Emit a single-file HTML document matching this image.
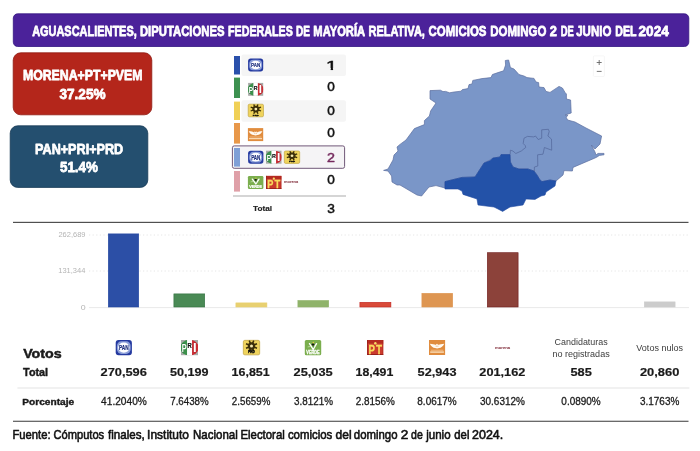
<!DOCTYPE html>
<html lang="es">
<head>
<meta charset="utf-8">
<title>Aguascalientes, Diputaciones Federales de Mayoría Relativa 2024</title>
<style>
html,body{margin:0;padding:0;background:#fff;}
body{width:700px;height:451px;overflow:hidden;font-family:"Liberation Sans", sans-serif;}
svg{display:block;font-family:"Liberation Sans", sans-serif;}
</style>
</head>
<body>
<svg width="700" height="451" viewBox="0 0 700 451">
<rect width="700" height="451" fill="#fff"/>
<rect x="13.3" y="13.8" width="675.5" height="32.7" rx="4.4" fill="#4b229a" stroke="#321580" stroke-width="0.8"/>
<text x="32.13" y="35.9" font-size="15.5" font-weight="bold" fill="#fff" textLength="104.60" lengthAdjust="spacingAndGlyphs" stroke="#fff" stroke-width="0.8" stroke-linejoin="round" >AGUASCALIENTES,</text>
<text x="139.95" y="35.9" font-size="15.5" font-weight="bold" fill="#fff" textLength="84.59" lengthAdjust="spacingAndGlyphs" stroke="#fff" stroke-width="0.8" stroke-linejoin="round" >DIPUTACIONES</text>
<text x="228.08" y="35.9" font-size="15.5" font-weight="bold" fill="#fff" textLength="64.73" lengthAdjust="spacingAndGlyphs" stroke="#fff" stroke-width="0.8" stroke-linejoin="round" >FEDERALES</text>
<text x="295.93" y="35.9" font-size="15.5" font-weight="bold" fill="#fff" textLength="13.97" lengthAdjust="spacingAndGlyphs" stroke="#fff" stroke-width="0.8" stroke-linejoin="round" >DE</text>
<text x="313.37" y="35.9" font-size="15.5" font-weight="bold" fill="#fff" textLength="51.72" lengthAdjust="spacingAndGlyphs" stroke="#fff" stroke-width="0.8" stroke-linejoin="round" >MAYORÍA</text>
<text x="368.48" y="35.9" font-size="15.5" font-weight="bold" fill="#fff" textLength="56.43" lengthAdjust="spacingAndGlyphs" stroke="#fff" stroke-width="0.8" stroke-linejoin="round" >RELATIVA,</text>
<text x="428.53" y="35.9" font-size="15.5" font-weight="bold" fill="#fff" textLength="57.92" lengthAdjust="spacingAndGlyphs" stroke="#fff" stroke-width="0.8" stroke-linejoin="round" >COMICIOS</text>
<text x="490.33" y="35.9" font-size="15.5" font-weight="bold" fill="#fff" textLength="56.15" lengthAdjust="spacingAndGlyphs" stroke="#fff" stroke-width="0.8" stroke-linejoin="round" >DOMINGO</text>
<text x="549.75" y="35.9" font-size="15.5" font-weight="bold" fill="#fff" textLength="7.16" lengthAdjust="spacingAndGlyphs" stroke="#fff" stroke-width="0.8" stroke-linejoin="round" >2</text>
<text x="560.67" y="35.9" font-size="15.5" font-weight="bold" fill="#fff" textLength="13.10" lengthAdjust="spacingAndGlyphs" stroke="#fff" stroke-width="0.8" stroke-linejoin="round" >DE</text>
<text x="576.23" y="35.9" font-size="15.5" font-weight="bold" fill="#fff" textLength="35.16" lengthAdjust="spacingAndGlyphs" stroke="#fff" stroke-width="0.8" stroke-linejoin="round" >JUNIO</text>
<text x="615.29" y="35.9" font-size="15.5" font-weight="bold" fill="#fff" textLength="21.24" lengthAdjust="spacingAndGlyphs" stroke="#fff" stroke-width="0.8" stroke-linejoin="round" >DEL</text>
<text x="638.53" y="35.9" font-size="15.5" font-weight="bold" fill="#fff" textLength="30.35" lengthAdjust="spacingAndGlyphs" stroke="#fff" stroke-width="0.8" stroke-linejoin="round" >2024</text>
<rect x="13.2" y="52.8" width="138.6" height="62" rx="7.5" fill="#b4261b" stroke="#8f1a12" stroke-width="0.8"/>
<text x="22.88" y="79.9" font-size="15.2" font-weight="bold" fill="#fff" textLength="119.65" lengthAdjust="spacingAndGlyphs" stroke="#fff" stroke-width="0.8" stroke-linejoin="round" >MORENA+PT+PVEM</text>
<text x="59.49" y="98.9" font-size="15.2" font-weight="bold" fill="#fff" textLength="46.07" lengthAdjust="spacingAndGlyphs" stroke="#fff" stroke-width="0.8" stroke-linejoin="round" >37.25%</text>
<rect x="10.2" y="125.8" width="137.6" height="61.6" rx="7.5" fill="#244f6f" stroke="#163a55" stroke-width="0.8"/>
<text x="35.07" y="153.6" font-size="15.2" font-weight="bold" fill="#fff" textLength="88.06" lengthAdjust="spacingAndGlyphs" stroke="#fff" stroke-width="0.8" stroke-linejoin="round" >PAN+PRI+PRD</text>
<text x="59.99" y="172.4" font-size="15.2" font-weight="bold" fill="#fff" textLength="37.96" lengthAdjust="spacingAndGlyphs" stroke="#fff" stroke-width="0.8" stroke-linejoin="round" >51.4%</text>
<rect x="241.4" y="54.4" width="104.6" height="21.6" rx="2" fill="#f5f5f5"/>
<rect x="241.4" y="100.2" width="104.6" height="21.6" rx="2" fill="#f5f5f5"/>
<rect x="232.4" y="145.9" width="112.2" height="22.4" rx="1.8" fill="#f5f4f6" stroke="#705878" stroke-width="1"/>
<rect x="234" y="56" width="6" height="18.5" fill="#2a50ab"/>
<rect x="234" y="77.6" width="6" height="20.4" fill="#3d9150"/>
<rect x="234" y="101.6" width="6" height="18.4" fill="#f0d056"/>
<rect x="234" y="123" width="6" height="20.6" fill="#e8984a"/>
<rect x="234" y="148" width="6" height="18.6" fill="#7f9fd6"/>
<rect x="234" y="171" width="6" height="20.6" fill="#dfa0a8"/>
<g transform="translate(248.1,58.6) scale(0.94375,0.9142857142857144)">
<rect x="0" y="0" width="16" height="14" rx="2.8" fill="#253aa0"/>
<rect x="1.2" y="1.2" width="13.6" height="11.6" rx="4.4" fill="#8c9fd9"/>
<ellipse cx="8" cy="7" rx="5.6" ry="4.7" fill="#fdfdff"/>
<text x="8" y="9.5" font-size="6.8" font-weight="bold" fill="#1a2c7c" stroke="#1a2c7c" stroke-width="0.2" text-anchor="middle" textLength="9.6" lengthAdjust="spacingAndGlyphs">PAN</text>
</g>
<g transform="translate(248.1,82.9) scale(0.94375,0.9214285714285715)">
<clipPath id="pric1"><ellipse cx="8" cy="7" rx="8.6" ry="7.2"/></clipPath>
<rect x="0" y="0" width="16" height="14" fill="#a9aba9"/>
<g clip-path="url(#pric1)">
<rect x="0" y="0" width="5.7" height="14" fill="#3c914c"/>
<rect x="5.7" y="0" width="4.7" height="14" fill="#fff"/>
<rect x="10.4" y="0" width="5.6" height="14" fill="#cc2d34"/>
</g>
<text x="3.1" y="11" font-size="9.6" font-weight="bold" fill="#fff" stroke="#256f36" stroke-width="0.6" paint-order="stroke" text-anchor="middle" textLength="4.6" lengthAdjust="spacingAndGlyphs">P</text>
<text x="8.1" y="7.7" font-size="6.4" font-weight="bold" fill="#111" stroke="#111" stroke-width="0.2" text-anchor="middle" textLength="4" lengthAdjust="spacingAndGlyphs">R</text>
<text x="13" y="11.4" font-size="11" font-weight="bold" fill="#fff" stroke="#a01f26" stroke-width="0.6" paint-order="stroke" text-anchor="middle" textLength="3.4" lengthAdjust="spacingAndGlyphs">I</text>
</g>
<g transform="translate(247.9,103.9) scale(0.99375,0.9428571428571428)">
<rect x="0.3" y="0.3" width="15.4" height="13.4" rx="1.4" fill="#efd35c" stroke="#b89a34" stroke-width="0.6"/>
<line x1="10.22" y1="6.42" x2="13.17" y2="7.53" stroke="#3c2f08" stroke-width="1.4"/><line x1="8.92" y1="7.72" x2="10.14" y2="10.40" stroke="#3c2f08" stroke-width="1.4"/><line x1="7.08" y1="7.72" x2="5.86" y2="10.40" stroke="#3c2f08" stroke-width="1.4"/><line x1="5.78" y1="6.42" x2="2.83" y2="7.53" stroke="#3c2f08" stroke-width="1.4"/><line x1="5.78" y1="4.58" x2="2.83" y2="3.47" stroke="#3c2f08" stroke-width="1.4"/><line x1="7.08" y1="3.28" x2="5.86" y2="0.60" stroke="#3c2f08" stroke-width="1.4"/><line x1="8.92" y1="3.28" x2="10.14" y2="0.60" stroke="#3c2f08" stroke-width="1.4"/><line x1="10.22" y1="4.58" x2="13.17" y2="3.47" stroke="#3c2f08" stroke-width="1.4"/>
<circle cx="8" cy="5.5" r="3.5" fill="#3c2f08"/>
<circle cx="8" cy="5.5" r="1.4" fill="#f7ebb0"/>
<text x="8" y="12.4" font-size="2.7" font-weight="bold" fill="#0c0c0c" stroke="#0c0c0c" stroke-width="0.35" text-anchor="middle" textLength="6" lengthAdjust="spacingAndGlyphs">PRD</text>
</g>
<g transform="translate(247.9,128.1) scale(0.95625,0.9285714285714286)">
<rect x="0" y="0" width="16" height="14" fill="#e08c3e"/>
<path d="M0.8 3.4 C3.4 3.5 5.4 3.9 6.6 4.7 L7.2 3.5 L8 4.5 L8.8 3.5 L9.4 4.7 C10.6 3.9 12.6 3.5 15.2 3.4 C14 6 12 7.2 10 7.5 L8 8 L6 7.5 C4 7.2 2 6 0.8 3.4 Z" fill="#fffaf2"/>
<path d="M7.2 5.2 v1.2 M8.8 5.2 v1.2" stroke="#e08c3e" stroke-width="0.5"/>
<rect x="1.8" y="9.1" width="12.4" height="0.9" fill="#f1bb82"/>
<rect x="1.2" y="10.6" width="13.6" height="1.4" fill="#f8d8b0"/>
</g>
<g transform="translate(248.1,150.7) scale(0.95625,0.9285714285714286)">
<rect x="0" y="0" width="16" height="14" rx="2.8" fill="#253aa0"/>
<rect x="1.2" y="1.2" width="13.6" height="11.6" rx="4.4" fill="#8c9fd9"/>
<ellipse cx="8" cy="7" rx="5.6" ry="4.7" fill="#fdfdff"/>
<text x="8" y="9.5" font-size="6.8" font-weight="bold" fill="#1a2c7c" stroke="#1a2c7c" stroke-width="0.2" text-anchor="middle" textLength="9.6" lengthAdjust="spacingAndGlyphs">PAN</text>
</g>
<g transform="translate(266,150.7) scale(0.96875,0.9285714285714286)">
<clipPath id="pric2"><ellipse cx="8" cy="7" rx="8.6" ry="7.2"/></clipPath>
<rect x="0" y="0" width="16" height="14" fill="#a9aba9"/>
<g clip-path="url(#pric2)">
<rect x="0" y="0" width="5.7" height="14" fill="#3c914c"/>
<rect x="5.7" y="0" width="4.7" height="14" fill="#fff"/>
<rect x="10.4" y="0" width="5.6" height="14" fill="#cc2d34"/>
</g>
<text x="3.1" y="11" font-size="9.6" font-weight="bold" fill="#fff" stroke="#256f36" stroke-width="0.6" paint-order="stroke" text-anchor="middle" textLength="4.6" lengthAdjust="spacingAndGlyphs">P</text>
<text x="8.1" y="7.7" font-size="6.4" font-weight="bold" fill="#111" stroke="#111" stroke-width="0.2" text-anchor="middle" textLength="4" lengthAdjust="spacingAndGlyphs">R</text>
<text x="13" y="11.4" font-size="11" font-weight="bold" fill="#fff" stroke="#a01f26" stroke-width="0.6" paint-order="stroke" text-anchor="middle" textLength="3.4" lengthAdjust="spacingAndGlyphs">I</text>
</g>
<g transform="translate(284,150.7) scale(1.0,0.9285714285714286)">
<rect x="0.3" y="0.3" width="15.4" height="13.4" rx="1.4" fill="#efd35c" stroke="#b89a34" stroke-width="0.6"/>
<line x1="10.22" y1="6.42" x2="13.17" y2="7.53" stroke="#3c2f08" stroke-width="1.4"/><line x1="8.92" y1="7.72" x2="10.14" y2="10.40" stroke="#3c2f08" stroke-width="1.4"/><line x1="7.08" y1="7.72" x2="5.86" y2="10.40" stroke="#3c2f08" stroke-width="1.4"/><line x1="5.78" y1="6.42" x2="2.83" y2="7.53" stroke="#3c2f08" stroke-width="1.4"/><line x1="5.78" y1="4.58" x2="2.83" y2="3.47" stroke="#3c2f08" stroke-width="1.4"/><line x1="7.08" y1="3.28" x2="5.86" y2="0.60" stroke="#3c2f08" stroke-width="1.4"/><line x1="8.92" y1="3.28" x2="10.14" y2="0.60" stroke="#3c2f08" stroke-width="1.4"/><line x1="10.22" y1="4.58" x2="13.17" y2="3.47" stroke="#3c2f08" stroke-width="1.4"/>
<circle cx="8" cy="5.5" r="3.5" fill="#3c2f08"/>
<circle cx="8" cy="5.5" r="1.4" fill="#f7ebb0"/>
<text x="8" y="12.4" font-size="2.7" font-weight="bold" fill="#0c0c0c" stroke="#0c0c0c" stroke-width="0.35" text-anchor="middle" textLength="6" lengthAdjust="spacingAndGlyphs">PRD</text>
</g>
<g transform="translate(247.9,175.9) scale(0.96875,0.9357142857142857)">
<rect x="0" y="0" width="16" height="14" rx="1.4" fill="#7bae4e"/>
<path d="M4.6 3.4 L8.2 8.6 L11.4 3.4" fill="none" stroke="#fff" stroke-width="1.4" stroke-linejoin="round" stroke-linecap="round"/>
<path d="M2.8 6.4 L5.8 5.9" stroke="#d8eac4" stroke-width="0.6"/>
<ellipse cx="8" cy="4.2" rx="1.4" ry="1" fill="#151515"/>
<ellipse cx="8.4" cy="6.3" rx="0.9" ry="0.6" fill="#4d8f3a"/>
<circle cx="8.3" cy="2.3" r="0.7" fill="#efcf3c"/>
<text x="8" y="12.7" font-size="4.1" font-weight="bold" fill="#fff" stroke="#fff" stroke-width="0.25" text-anchor="middle" textLength="13" lengthAdjust="spacingAndGlyphs">VERDE</text>
</g>
<g transform="translate(266,175.9) scale(0.95625,0.9357142857142857)">
<rect x="0" y="0" width="16" height="14" fill="#cb3b2e"/>
<rect x="0" y="0" width="16" height="3.6" fill="#b52a21"/>
<rect x="0" y="3.5" width="16" height="0.6" fill="#dc5a40"/>
<rect x="0" y="13.1" width="16" height="0.9" fill="#98201a"/>
<rect x="0" y="0" width="0.8" height="14" fill="#98201a"/>
<rect x="15.4" y="0" width="0.6" height="14" fill="#a8241d"/>
<circle cx="8.2" cy="3" r="1.2" fill="#f8dc68"/>
<text x="4.5" y="12.7" font-size="11.4" font-weight="bold" fill="#f9db5c" stroke="#f9db5c" stroke-width="0.3" text-anchor="middle" textLength="6.4" lengthAdjust="spacingAndGlyphs">P</text>
<text x="11.8" y="12.7" font-size="11.4" font-weight="bold" fill="#f9db5c" stroke="#f9db5c" stroke-width="0.3" text-anchor="middle" textLength="6" lengthAdjust="spacingAndGlyphs">T</text>
</g>
<text x="284" y="183.4" font-size="4" font-weight="bold" fill="#7b2230" textLength="14.2" lengthAdjust="spacingAndGlyphs">morena</text>
<clipPath id="one"><rect x="320" y="55" width="20" height="13"/><rect x="330.75" y="67.9" width="2.3" height="2.3"/></clipPath>
<text x="326.05" y="69.9" font-size="13.2" font-weight="normal" fill="#111" stroke="#111" stroke-width="0.5" textLength="11.01" lengthAdjust="spacingAndGlyphs" clip-path="url(#one)">1</text>
<text x="327.32" y="91.0" font-size="13" font-weight="normal" fill="#111" textLength="7.56" lengthAdjust="spacingAndGlyphs" stroke="#111" stroke-width="0.5" stroke-linejoin="round" >0</text>
<text x="327.32" y="115.0" font-size="13" font-weight="normal" fill="#111" textLength="7.56" lengthAdjust="spacingAndGlyphs" stroke="#111" stroke-width="0.5" stroke-linejoin="round" >0</text>
<text x="327.32" y="136.8" font-size="13" font-weight="normal" fill="#111" textLength="7.56" lengthAdjust="spacingAndGlyphs" stroke="#111" stroke-width="0.5" stroke-linejoin="round" >0</text>
<text x="327.13" y="161.8" font-size="13" font-weight="normal" fill="#752a5e" textLength="7.94" lengthAdjust="spacingAndGlyphs" stroke="#752a5e" stroke-width="0.5" stroke-linejoin="round" >2</text>
<text x="327.32" y="184.3" font-size="13" font-weight="normal" fill="#111" textLength="7.56" lengthAdjust="spacingAndGlyphs" stroke="#111" stroke-width="0.5" stroke-linejoin="round" >0</text>
<rect x="233" y="195.5" width="113" height="1" fill="#ababab"/>
<text x="252.99" y="210.5" font-size="7.8" font-weight="bold" fill="#222" textLength="19.11" lengthAdjust="spacingAndGlyphs" stroke="#222" stroke-width="0.15" stroke-linejoin="round" >Total</text>
<text x="327.33" y="213.0" font-size="13" font-weight="normal" fill="#111" textLength="7.62" lengthAdjust="spacingAndGlyphs" stroke="#111" stroke-width="0.5" stroke-linejoin="round" >3</text>
<polygon points="406,140 414.4,128.6 424.4,124.6 424.4,120.6 429.4,116 430.6,111 436,103 430,99 430,90.6 440.4,90.2 443,91.6 445.6,91.4 449.6,92.8 454,92 461,91.2 462.4,89.6 468,88.6 469,84.6 472,84 472.8,80.4 482,78.6 491,77.6 492.4,74.5 498,72.6 503.6,70.8 505.6,65 505.3,60.5 508.6,60 510.4,67.6 514,69 519,74.6 524,76 527,77.6 534,78.4 536,82 538.6,82.6 539,87 544,87.6 546,91.4 550,92.4 559,86.4 562.4,88 565,92.4 566.4,94 566.4,99 570.6,100 571.2,113 565,115 568,115.4 566,117 567.6,120 575,122 586,128 601.6,136 600,144 595,149 591.4,145 595,152 596,155 598,153.4 604,153.4 604,154.8 599.4,155.4 597,157 595,158 573,167.4 572.4,171 564,170.6 563,175 556,181 550,180 542,181.6 540,180 537,175 534,171 528,169 519,169 513,167 510.4,162 510,154.6 501,154.6 500,157 493,158 490,160 484,163 475,177 462,177.4 445,181.6 445,188 436,185.6 429,187 424,193 421.6,196 417,195 400,185 397,185 392,182 391.6,176 388,171 383.6,170.4 388,169 393,160 394,155 398,151 397,147 400,144.4" fill="#7a96c8" stroke="#5b6f9f" stroke-width="0.7" stroke-linejoin="round"/>
<polygon points="510,154.6 510.4,162 513,167 519,169 528,169 534,171 537,175 540,180 542,181.6 550,180 556,181 555,186 546,192 545,195 541,196 535,199.4 526,199 523,205 510,207 502.6,211.4 498,209 494,207 478,205 477,199 474,198 463,194.4 462,191 458,189 445,189 445,181.6 462,177.4 475,177 484,163 490,160.6 493,158 500,157 501,154.6" fill="#2352a8" stroke="#1f48a0" stroke-width="0.6" stroke-linejoin="round"/>
<polyline points="510.2,154.4 510.4,150.2 512.9,151 515.8,153.5 521.3,151 524,148.8 525.7,147.5 525.3,145.7 523.2,143.5 524,138.2 527.5,136.4 533.7,136.9 535.5,136 538.2,139.5 541.7,138.2 541.7,129.8 548.4,129.3 549.2,131.5 547.9,136 551.5,139.1 551.7,150.2 544.4,147.5 543,154.2 537.6,154.8 537.8,166 534.4,167 534.4,171" fill="none" stroke="#52669a" stroke-width="0.7" stroke-linejoin="round"/>
<rect x="593.4" y="55.9" width="11" height="20.6" rx="1" fill="#fff" stroke="#f0f0f0" stroke-width="0.6"/>
<path d="M596.7 62.5h5 M599.2 60v5 M596.8 71.4h4.8" stroke="#666" stroke-width="0.9" fill="none"/>
<rect x="13" y="221.8" width="675.5" height="1.2" fill="#505050"/>
<rect x="13" y="420.7" width="675.5" height="1.2" fill="#5a5a5a"/>
<rect x="17.4" y="387.5" width="672" height="1" fill="#e4e4e4"/>
<line x1="89" y1="235" x2="688" y2="235" stroke="#e0e0e0" stroke-width="0.8" stroke-dasharray="1.2 2.4"/>
<line x1="89" y1="271" x2="688" y2="271" stroke="#e0e0e0" stroke-width="0.8" stroke-dasharray="1.2 2.4"/>
<rect x="89" y="307.2" width="600" height="0.9" fill="#e6e6e6"/>
<text x="58.42" y="237.3" font-size="7.2" font-weight="normal" fill="#b4b4b4" textLength="27.13" lengthAdjust="spacingAndGlyphs" >262,689</text>
<text x="58.23" y="273.3" font-size="7.2" font-weight="normal" fill="#b4b4b4" textLength="27.19" lengthAdjust="spacingAndGlyphs" >131,344</text>
<text x="80.86" y="310" font-size="7.2" font-weight="normal" fill="#b4b4b4" textLength="4.89" lengthAdjust="spacingAndGlyphs" >0</text>
<rect x="108.3" y="233.9" width="30.4" height="73.1" fill="#2c4fa6" stroke="#2447a0" stroke-width="0.6"/>
<rect x="173.9" y="293.90000000000003" width="30.8" height="13.1" fill="#4a8a55" stroke="#2f6f3f" stroke-width="0.6"/>
<rect x="235.9" y="302.90000000000003" width="31.0" height="4.1" fill="#e8d070" stroke="#e8d070" stroke-width="0.6"/>
<rect x="297.90000000000003" y="300.5" width="30.8" height="6.5" fill="#8fb36a" stroke="#8fb36a" stroke-width="0.6"/>
<rect x="359.90000000000003" y="302.3" width="31.0" height="4.7" fill="#d94a38" stroke="#c02420" stroke-width="0.6"/>
<rect x="421.90000000000003" y="293.3" width="30.8" height="13.7" fill="#de9652" stroke="#de9652" stroke-width="0.6"/>
<rect x="487.3" y="252.70000000000002" width="30.8" height="54.3" fill="#8c423a" stroke="#6e1c1c" stroke-width="0.6"/>
<rect x="644.3" y="301.90000000000003" width="30.8" height="5.1" fill="#cccccc" stroke="#cccccc" stroke-width="0.6"/>
<text x="23.16" y="358.2" font-size="13.5" font-weight="bold" fill="#1a1a1a" textLength="38.56" lengthAdjust="spacingAndGlyphs" stroke="#1a1a1a" stroke-width="0.5" stroke-linejoin="round" >Votos</text>
<text x="23.08" y="375.8" font-size="10.3" font-weight="bold" fill="#1a1a1a" textLength="25.06" lengthAdjust="spacingAndGlyphs" stroke="#1a1a1a" stroke-width="0.4" stroke-linejoin="round" >Total</text>
<text x="22.32" y="405" font-size="9.4" font-weight="bold" fill="#1a1a1a" textLength="51.82" lengthAdjust="spacingAndGlyphs" stroke="#1a1a1a" stroke-width="0.4" stroke-linejoin="round" >Porcentaje</text>
<g transform="translate(115.7,340) scale(1.0125,1.0857142857142856)">
<rect x="0" y="0" width="16" height="14" rx="2.8" fill="#253aa0"/>
<rect x="1.2" y="1.2" width="13.6" height="11.6" rx="4.4" fill="#8c9fd9"/>
<ellipse cx="8" cy="7" rx="5.6" ry="4.7" fill="#fdfdff"/>
<text x="8" y="9.5" font-size="6.8" font-weight="bold" fill="#1a2c7c" stroke="#1a2c7c" stroke-width="0.2" text-anchor="middle" textLength="9.6" lengthAdjust="spacingAndGlyphs">PAN</text>
</g>
<g transform="translate(181,340) scale(1.0625,1.0857142857142856)">
<clipPath id="pric3"><ellipse cx="8" cy="7" rx="8.6" ry="7.2"/></clipPath>
<rect x="0" y="0" width="16" height="14" fill="#a9aba9"/>
<g clip-path="url(#pric3)">
<rect x="0" y="0" width="5.7" height="14" fill="#3c914c"/>
<rect x="5.7" y="0" width="4.7" height="14" fill="#fff"/>
<rect x="10.4" y="0" width="5.6" height="14" fill="#cc2d34"/>
</g>
<text x="3.1" y="11" font-size="9.6" font-weight="bold" fill="#fff" stroke="#256f36" stroke-width="0.6" paint-order="stroke" text-anchor="middle" textLength="4.6" lengthAdjust="spacingAndGlyphs">P</text>
<text x="8.1" y="7.7" font-size="6.4" font-weight="bold" fill="#111" stroke="#111" stroke-width="0.2" text-anchor="middle" textLength="4" lengthAdjust="spacingAndGlyphs">R</text>
<text x="13" y="11.4" font-size="11" font-weight="bold" fill="#fff" stroke="#a01f26" stroke-width="0.6" paint-order="stroke" text-anchor="middle" textLength="3.4" lengthAdjust="spacingAndGlyphs">I</text>
</g>
<g transform="translate(243,340) scale(1.0625,1.0857142857142856)">
<rect x="0.3" y="0.3" width="15.4" height="13.4" rx="1.4" fill="#efd35c" stroke="#b89a34" stroke-width="0.6"/>
<line x1="10.22" y1="6.42" x2="13.17" y2="7.53" stroke="#3c2f08" stroke-width="1.4"/><line x1="8.92" y1="7.72" x2="10.14" y2="10.40" stroke="#3c2f08" stroke-width="1.4"/><line x1="7.08" y1="7.72" x2="5.86" y2="10.40" stroke="#3c2f08" stroke-width="1.4"/><line x1="5.78" y1="6.42" x2="2.83" y2="7.53" stroke="#3c2f08" stroke-width="1.4"/><line x1="5.78" y1="4.58" x2="2.83" y2="3.47" stroke="#3c2f08" stroke-width="1.4"/><line x1="7.08" y1="3.28" x2="5.86" y2="0.60" stroke="#3c2f08" stroke-width="1.4"/><line x1="8.92" y1="3.28" x2="10.14" y2="0.60" stroke="#3c2f08" stroke-width="1.4"/><line x1="10.22" y1="4.58" x2="13.17" y2="3.47" stroke="#3c2f08" stroke-width="1.4"/>
<circle cx="8" cy="5.5" r="3.5" fill="#3c2f08"/>
<circle cx="8" cy="5.5" r="1.4" fill="#f7ebb0"/>
<text x="8" y="12.4" font-size="2.7" font-weight="bold" fill="#0c0c0c" stroke="#0c0c0c" stroke-width="0.35" text-anchor="middle" textLength="6" lengthAdjust="spacingAndGlyphs">PRD</text>
</g>
<g transform="translate(304.8,340) scale(1.025,1.0857142857142856)">
<rect x="0" y="0" width="16" height="14" rx="1.4" fill="#7bae4e"/>
<path d="M4.6 3.4 L8.2 8.6 L11.4 3.4" fill="none" stroke="#fff" stroke-width="1.4" stroke-linejoin="round" stroke-linecap="round"/>
<path d="M2.8 6.4 L5.8 5.9" stroke="#d8eac4" stroke-width="0.6"/>
<ellipse cx="8" cy="4.2" rx="1.4" ry="1" fill="#151515"/>
<ellipse cx="8.4" cy="6.3" rx="0.9" ry="0.6" fill="#4d8f3a"/>
<circle cx="8.3" cy="2.3" r="0.7" fill="#efcf3c"/>
<text x="8" y="12.7" font-size="4.1" font-weight="bold" fill="#fff" stroke="#fff" stroke-width="0.25" text-anchor="middle" textLength="13" lengthAdjust="spacingAndGlyphs">VERDE</text>
</g>
<g transform="translate(367.1,340) scale(1.00625,1.0714285714285714)">
<rect x="0" y="0" width="16" height="14" fill="#cb3b2e"/>
<rect x="0" y="0" width="16" height="3.6" fill="#b52a21"/>
<rect x="0" y="3.5" width="16" height="0.6" fill="#dc5a40"/>
<rect x="0" y="13.1" width="16" height="0.9" fill="#98201a"/>
<rect x="0" y="0" width="0.8" height="14" fill="#98201a"/>
<rect x="15.4" y="0" width="0.6" height="14" fill="#a8241d"/>
<circle cx="8.2" cy="3" r="1.2" fill="#f8dc68"/>
<text x="4.5" y="12.7" font-size="11.4" font-weight="bold" fill="#f9db5c" stroke="#f9db5c" stroke-width="0.3" text-anchor="middle" textLength="6.4" lengthAdjust="spacingAndGlyphs">P</text>
<text x="11.8" y="12.7" font-size="11.4" font-weight="bold" fill="#f9db5c" stroke="#f9db5c" stroke-width="0.3" text-anchor="middle" textLength="6" lengthAdjust="spacingAndGlyphs">T</text>
</g>
<g transform="translate(429,340) scale(1.00625,1.0714285714285714)">
<rect x="0" y="0" width="16" height="14" fill="#e08c3e"/>
<path d="M0.8 3.4 C3.4 3.5 5.4 3.9 6.6 4.7 L7.2 3.5 L8 4.5 L8.8 3.5 L9.4 4.7 C10.6 3.9 12.6 3.5 15.2 3.4 C14 6 12 7.2 10 7.5 L8 8 L6 7.5 C4 7.2 2 6 0.8 3.4 Z" fill="#fffaf2"/>
<path d="M7.2 5.2 v1.2 M8.8 5.2 v1.2" stroke="#e08c3e" stroke-width="0.5"/>
<rect x="1.8" y="9.1" width="12.4" height="0.9" fill="#f1bb82"/>
<rect x="1.2" y="10.6" width="13.6" height="1.4" fill="#f8d8b0"/>
</g>
<text x="495" y="349" font-size="4" font-weight="bold" fill="#7b2230" textLength="15.2" lengthAdjust="spacingAndGlyphs">morena</text>
<text x="554.55" y="344.6" font-size="9.1" font-weight="normal" fill="#3c3c3c" textLength="53.18" lengthAdjust="spacingAndGlyphs" >Candidaturas</text>
<text x="552.40" y="357" font-size="9.1" font-weight="normal" fill="#3c3c3c" textLength="57.33" lengthAdjust="spacingAndGlyphs" >no registradas</text>
<text x="636.36" y="351" font-size="9.1" font-weight="normal" fill="#3c3c3c" textLength="46.56" lengthAdjust="spacingAndGlyphs" >Votos nulos</text>
<text x="100.56" y="375.5" font-size="11.8" font-weight="bold" fill="#1a1a1a" textLength="46.31" lengthAdjust="spacingAndGlyphs" stroke="#1a1a1a" stroke-width="0.2" stroke-linejoin="round" >270,596</text>
<text x="101.12" y="405.1" font-size="10.6" font-weight="normal" fill="#1c1c1c" textLength="45.69" lengthAdjust="spacingAndGlyphs" stroke="#1c1c1c" stroke-width="0.3" stroke-linejoin="round" >41.2040%</text>
<text x="170.01" y="375.5" font-size="11.8" font-weight="bold" fill="#1a1a1a" textLength="38.45" lengthAdjust="spacingAndGlyphs" stroke="#1a1a1a" stroke-width="0.2" stroke-linejoin="round" >50,199</text>
<text x="170.25" y="405.1" font-size="10.6" font-weight="normal" fill="#1c1c1c" textLength="38.45" lengthAdjust="spacingAndGlyphs" stroke="#1c1c1c" stroke-width="0.3" stroke-linejoin="round" >7.6438%</text>
<text x="231.61" y="375.5" font-size="11.8" font-weight="bold" fill="#1a1a1a" textLength="38.13" lengthAdjust="spacingAndGlyphs" stroke="#1a1a1a" stroke-width="0.2" stroke-linejoin="round" >16,851</text>
<text x="231.86" y="405.1" font-size="10.6" font-weight="normal" fill="#1c1c1c" textLength="38.44" lengthAdjust="spacingAndGlyphs" stroke="#1c1c1c" stroke-width="0.3" stroke-linejoin="round" >2.5659%</text>
<text x="293.56" y="375.5" font-size="11.8" font-weight="bold" fill="#1a1a1a" textLength="39.20" lengthAdjust="spacingAndGlyphs" stroke="#1a1a1a" stroke-width="0.2" stroke-linejoin="round" >25,035</text>
<text x="293.97" y="405.1" font-size="10.6" font-weight="normal" fill="#1c1c1c" textLength="38.93" lengthAdjust="spacingAndGlyphs" stroke="#1c1c1c" stroke-width="0.3" stroke-linejoin="round" >3.8121%</text>
<text x="355.62" y="375.5" font-size="11.8" font-weight="bold" fill="#1a1a1a" textLength="37.72" lengthAdjust="spacingAndGlyphs" stroke="#1a1a1a" stroke-width="0.2" stroke-linejoin="round" >18,491</text>
<text x="355.65" y="405.1" font-size="10.6" font-weight="normal" fill="#1c1c1c" textLength="39.05" lengthAdjust="spacingAndGlyphs" stroke="#1c1c1c" stroke-width="0.3" stroke-linejoin="round" >2.8156%</text>
<text x="417.61" y="375.5" font-size="11.8" font-weight="bold" fill="#1a1a1a" textLength="38.85" lengthAdjust="spacingAndGlyphs" stroke="#1a1a1a" stroke-width="0.2" stroke-linejoin="round" >52,943</text>
<text x="417.32" y="405.1" font-size="10.6" font-weight="normal" fill="#1c1c1c" textLength="39.39" lengthAdjust="spacingAndGlyphs" stroke="#1c1c1c" stroke-width="0.3" stroke-linejoin="round" >8.0617%</text>
<text x="479.36" y="375.5" font-size="11.8" font-weight="bold" fill="#1a1a1a" textLength="45.95" lengthAdjust="spacingAndGlyphs" stroke="#1a1a1a" stroke-width="0.2" stroke-linejoin="round" >201,162</text>
<text x="479.97" y="405.1" font-size="10.6" font-weight="normal" fill="#1c1c1c" textLength="44.94" lengthAdjust="spacingAndGlyphs" stroke="#1c1c1c" stroke-width="0.3" stroke-linejoin="round" >30.6312%</text>
<text x="570.41" y="375.5" font-size="11.8" font-weight="bold" fill="#1a1a1a" textLength="21.35" lengthAdjust="spacingAndGlyphs" stroke="#1a1a1a" stroke-width="0.2" stroke-linejoin="round" >585</text>
<text x="561.36" y="405.1" font-size="10.6" font-weight="normal" fill="#1c1c1c" textLength="39.34" lengthAdjust="spacingAndGlyphs" stroke="#1c1c1c" stroke-width="0.3" stroke-linejoin="round" >0.0890%</text>
<text x="639.95" y="375.5" font-size="11.8" font-weight="bold" fill="#1a1a1a" textLength="39.37" lengthAdjust="spacingAndGlyphs" stroke="#1a1a1a" stroke-width="0.2" stroke-linejoin="round" >20,860</text>
<text x="639.97" y="405.1" font-size="10.6" font-weight="normal" fill="#1c1c1c" textLength="39.33" lengthAdjust="spacingAndGlyphs" stroke="#1c1c1c" stroke-width="0.3" stroke-linejoin="round" >3.1763%</text>
<text x="12.38" y="439.1" font-size="12.8" font-weight="normal" fill="#111" textLength="38.15" lengthAdjust="spacingAndGlyphs" stroke="#111" stroke-width="0.6" stroke-linejoin="round" >Fuente:</text>
<text x="53.43" y="439.1" font-size="12.8" font-weight="normal" fill="#111" textLength="50.77" lengthAdjust="spacingAndGlyphs" stroke="#111" stroke-width="0.6" stroke-linejoin="round" >Cómputos</text>
<text x="108.04" y="439.1" font-size="12.8" font-weight="normal" fill="#111" textLength="36.70" lengthAdjust="spacingAndGlyphs" stroke="#111" stroke-width="0.6" stroke-linejoin="round" >finales,</text>
<text x="147.10" y="439.1" font-size="12.8" font-weight="normal" fill="#111" textLength="41.91" lengthAdjust="spacingAndGlyphs" stroke="#111" stroke-width="0.6" stroke-linejoin="round" >Instituto</text>
<text x="192.96" y="439.1" font-size="12.8" font-weight="normal" fill="#111" textLength="44.82" lengthAdjust="spacingAndGlyphs" stroke="#111" stroke-width="0.6" stroke-linejoin="round" >Nacional</text>
<text x="240.47" y="439.1" font-size="12.8" font-weight="normal" fill="#111" textLength="44.30" lengthAdjust="spacingAndGlyphs" stroke="#111" stroke-width="0.6" stroke-linejoin="round" >Electoral</text>
<text x="287.92" y="439.1" font-size="12.8" font-weight="normal" fill="#111" textLength="44.40" lengthAdjust="spacingAndGlyphs" stroke="#111" stroke-width="0.6" stroke-linejoin="round" >comicios</text>
<text x="335.60" y="439.1" font-size="12.8" font-weight="normal" fill="#111" textLength="16.01" lengthAdjust="spacingAndGlyphs" stroke="#111" stroke-width="0.6" stroke-linejoin="round" >del</text>
<text x="353.82" y="439.1" font-size="12.8" font-weight="normal" fill="#111" textLength="43.66" lengthAdjust="spacingAndGlyphs" stroke="#111" stroke-width="0.6" stroke-linejoin="round" >domingo</text>
<text x="400.82" y="439.1" font-size="12.8" font-weight="normal" fill="#111" textLength="7.57" lengthAdjust="spacingAndGlyphs" stroke="#111" stroke-width="0.6" stroke-linejoin="round" >2</text>
<text x="411.06" y="439.1" font-size="12.8" font-weight="normal" fill="#111" textLength="11.71" lengthAdjust="spacingAndGlyphs" stroke="#111" stroke-width="0.6" stroke-linejoin="round" >de</text>
<text x="426.18" y="439.1" font-size="12.8" font-weight="normal" fill="#111" textLength="24.40" lengthAdjust="spacingAndGlyphs" stroke="#111" stroke-width="0.6" stroke-linejoin="round" >junio</text>
<text x="454.32" y="439.1" font-size="12.8" font-weight="normal" fill="#111" textLength="15.13" lengthAdjust="spacingAndGlyphs" stroke="#111" stroke-width="0.6" stroke-linejoin="round" >del</text>
<text x="472.07" y="439.1" font-size="12.8" font-weight="normal" fill="#111" textLength="31.16" lengthAdjust="spacingAndGlyphs" stroke="#111" stroke-width="0.6" stroke-linejoin="round" >2024.</text>
</svg>
</body>
</html>
